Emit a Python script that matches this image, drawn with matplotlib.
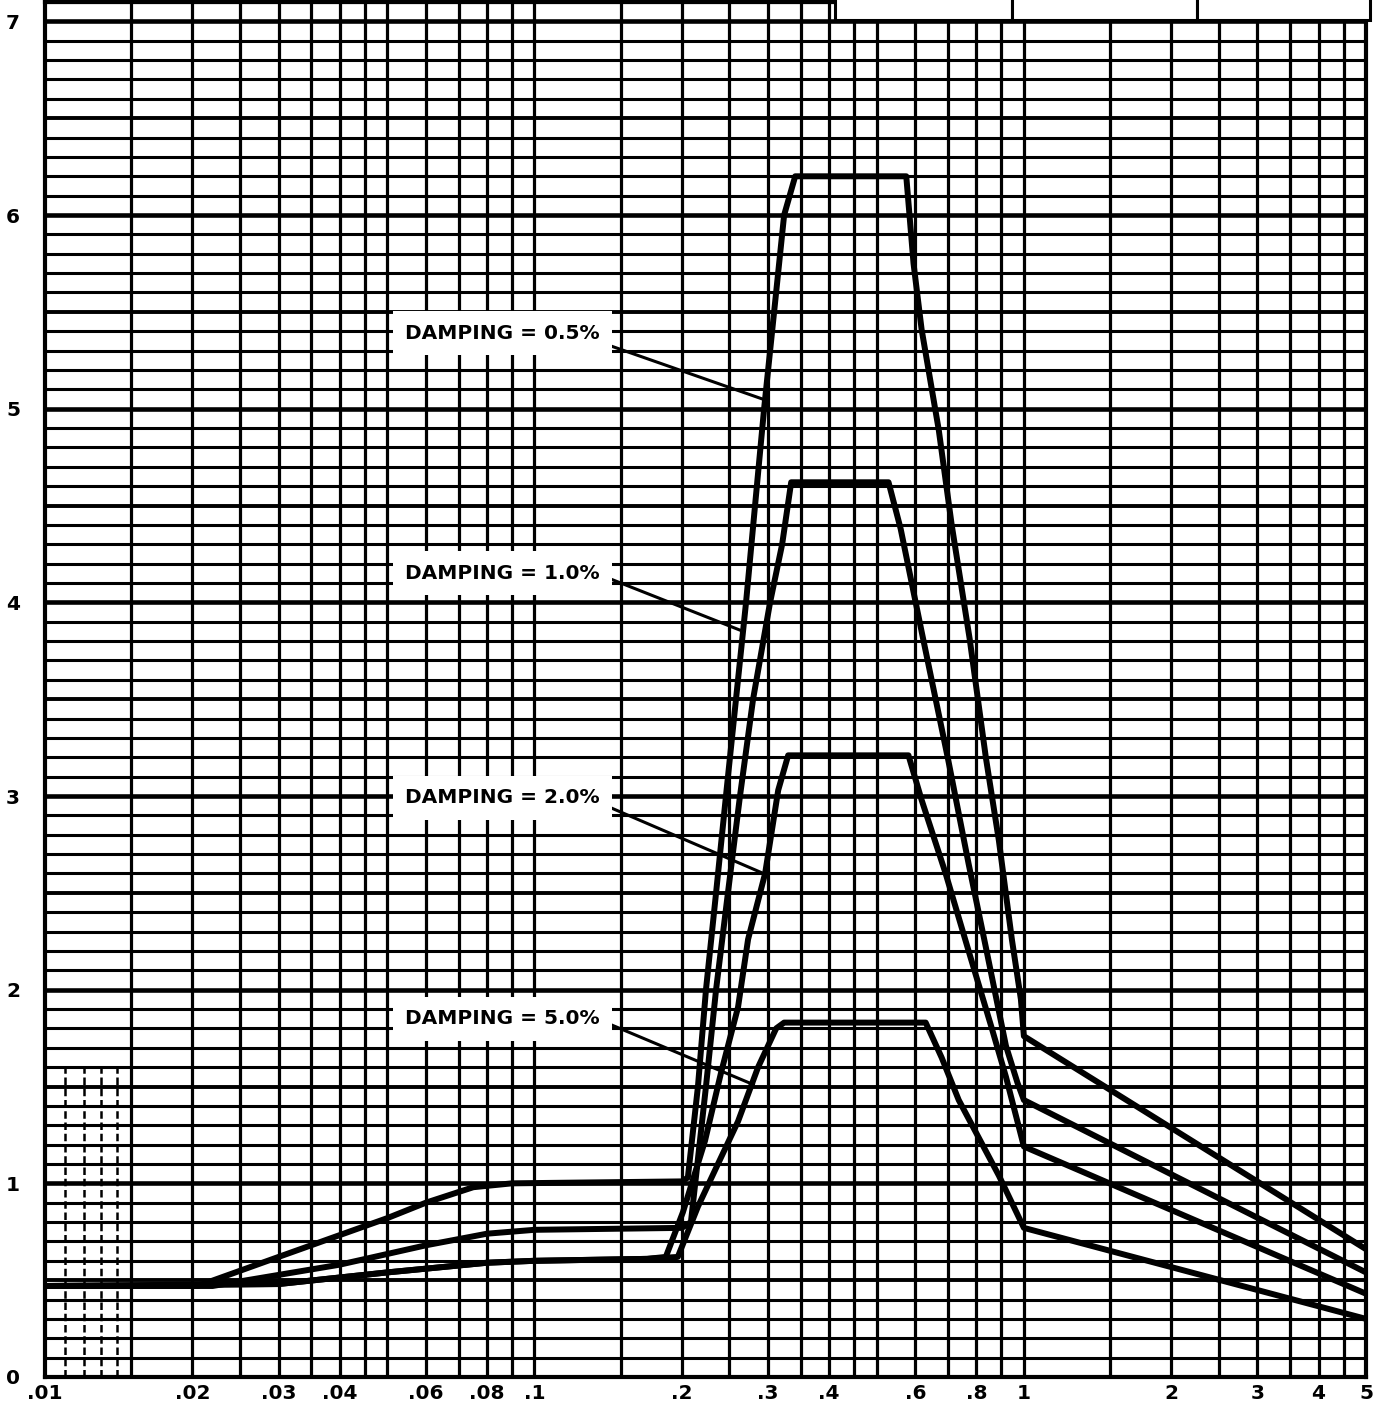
import numpy as np
import matplotlib
matplotlib.use("Agg")
from matplotlib import pyplot as plt
from matplotlib.patches import Rectangle

# periods (x) and amplification (y)
d05_x = [0.01, 0.0205, 0.03, 0.05, 0.06, 0.075, 0.09, 0.2, 0.2058, 0.2158, 0.2241, 0.2350,
         0.2462, 0.2581, 0.2706, 0.2823, 0.2946, 0.3088, 0.3237, 0.3410, 0.575, 0.595, 0.618,
         0.670, 0.712, 0.775, 0.836, 0.889, 0.945, 0.986, 1.0, 5.0]
d05_y = [0.47, 0.47, 0.62, 0.82, 0.90, 0.98, 1.0, 1.01, 1.03, 1.5, 2.0, 2.5,
         3.0, 3.5, 4.0, 4.5, 5.0, 5.5, 6.0, 6.2, 6.2, 5.75, 5.41,
         4.89, 4.40, 3.81, 3.2, 2.77, 2.26, 1.95, 1.76, 0.66]

d10_x = [0.01, 0.022, 0.04, 0.06, 0.08, 0.1, 0.2, 0.2088, 0.2241, 0.2350, 0.2485, 0.2630,
         0.2797, 0.3030, 0.3207, 0.3346, 0.529, 0.56, 0.618, 0.70, 0.771, 0.836, 0.919,
         0.97, 1.0, 5.0]
d10_y = [0.47, 0.47, 0.58, 0.68, 0.74, 0.76, 0.77, 0.8, 1.5, 2.0, 2.5, 3.0,
         3.5, 4.0, 4.3, 4.62, 4.62, 4.38, 3.85, 3.19, 2.65, 2.22, 1.71,
         1.52, 1.43, 0.54]

d20_x = [0.01, 0.03, 0.05, 0.08, 0.1, 0.17, 0.1855, 0.2010, 0.2231, 0.2405, 0.2606, 0.2732,
         0.2960, 0.3148, 0.3299, 0.581, 0.618, 0.692, 0.771, 0.860, 0.919, 1.0, 5.0]
d20_y = [0.47, 0.48, 0.54, 0.59, 0.60, 0.61, 0.62, 0.85, 1.22, 1.57, 1.91, 2.26,
         2.60, 3.03, 3.21, 3.21, 2.98, 2.60, 2.20, 1.80, 1.55, 1.19, 0.43]

d50_x = [0.01, 0.03, 0.05, 0.08, 0.1, 0.17, 0.1963, 0.2158, 0.2371, 0.2606, 0.2864, 0.3118,
         0.3237, 0.630, 0.679, 0.736, 0.889, 1.0, 5.0]
d50_y = [0.47, 0.48, 0.54, 0.59, 0.60, 0.61, 0.62, 0.88, 1.1, 1.32, 1.6, 1.8,
         1.83, 1.83, 1.65, 1.43, 1.04, 0.77, 0.30]

label_texts = ["DAMPING = 0.5%", "DAMPING = 1.0%", "DAMPING = 2.0%", "DAMPING = 5.0%"]

x_ticks = [0.01, 0.02, 0.03, 0.04, 0.06, 0.08, 0.1, 0.2, 0.3, 0.4, 0.6, 0.8, 1, 2, 3, 4, 5]
x_ticklabels = [".01", ".02", ".03", ".04", ".06", ".08", ".1", ".2", ".3", ".4", ".6", ".8",
                "1", "2", "3", "4", "5"]
y_ticks = [0, 1, 2, 3, 4, 5, 6, 7]

# label placement: text centre, leader start, leader tip
label_pos = [(0.086, 5.39), (0.086, 4.15), (0.086, 2.99), (0.086, 1.85)]
leader_start = [(0.141, 5.33), (0.140, 4.13), (0.140, 2.95), (0.140, 1.83)]
leader_tip = [(0.300, 5.04), (0.267, 3.85), (0.300, 2.59), (0.280, 1.51)]

plt.rcParams['font.family'] = ['DejaVu Sans']

W, H = 1381, 1408
fig = plt.figure(figsize=(W / 100, H / 100), dpi=100)
ax = fig.add_axes([45 / W, 31 / H, (1366 - 45) / W, (1377 - 2) / H])
ax.set_xscale('log')
ax.set_xlim(0.01, 5)
ax.set_ylim(0, 7.1)

# graph paper grid
mults = [1, 1.5, 2, 2.5, 3, 3.5, 4, 4.5, 5, 6, 7, 8, 9]
for dec in [0.01, 0.1, 1]:
    for m in mults:
        xv = dec * m
        if 0.01 < xv < 5:
            ax.axvline(xv, color='black', lw=2.3, zorder=1)
for xv in [0.011, 0.012, 0.013, 0.014]:
    ax.plot([xv, xv], [0, 1.6], color='black', lw=1.8, ls=(0, (3, 1.5)), zorder=1)

for i in range(1, 72):
    yv = i / 10
    if i % 10 == 0:
        lw = 3.3
    elif i % 5 == 0:
        lw = 2.8
    else:
        lw = 2.2
    ax.axhline(yv, color='black', lw=lw, zorder=1)

for xs, ys in [(d05_x, d05_y), (d10_x, d10_y), (d20_x, d20_y), (d50_x, d50_y)]:
    ax.plot(xs, ys, color='black', lw=4.3, solid_joinstyle='round',
            solid_capstyle='round', zorder=3)

for txt, (tx, ty), (sx, sy), (ex, ey) in zip(label_texts, label_pos, leader_start, leader_tip):
    ax.text(tx, ty, txt, ha='center', va='center', fontsize=14.5, fontweight='bold',
            zorder=5, bbox=dict(facecolor='white', edgecolor='none', pad=9))
    ax.plot([sx, ex], [sy, ey], color='black', lw=2.2, zorder=4)

ax.set_xticks(x_ticks)
ax.set_xticklabels(x_ticklabels)
ax.xaxis.set_minor_locator(matplotlib.ticker.NullLocator())
ax.set_yticks(y_ticks)
ax.tick_params(length=0, labelsize=14.5)
ax.tick_params(axis='y', pad=18)
ax.tick_params(axis='x', pad=5)
for lab in ax.get_xticklabels() + ax.get_yticklabels():
    lab.set_fontweight('bold')

for sp in ax.spines.values():
    sp.set_linewidth(3)

# title block cut off at the top edge
for x0, x1 in [(835, 1012), (1012, 1197), (1197, 1370)]:
    fig.patches.append(Rectangle((x0 / W, (H - 20) / H), (x1 - x0) / W, 30 / H,
                                 transform=fig.transFigure, facecolor='white',
                                 edgecolor='black', lw=2.2, zorder=10))

fig.savefig('out.png', dpi=100)
